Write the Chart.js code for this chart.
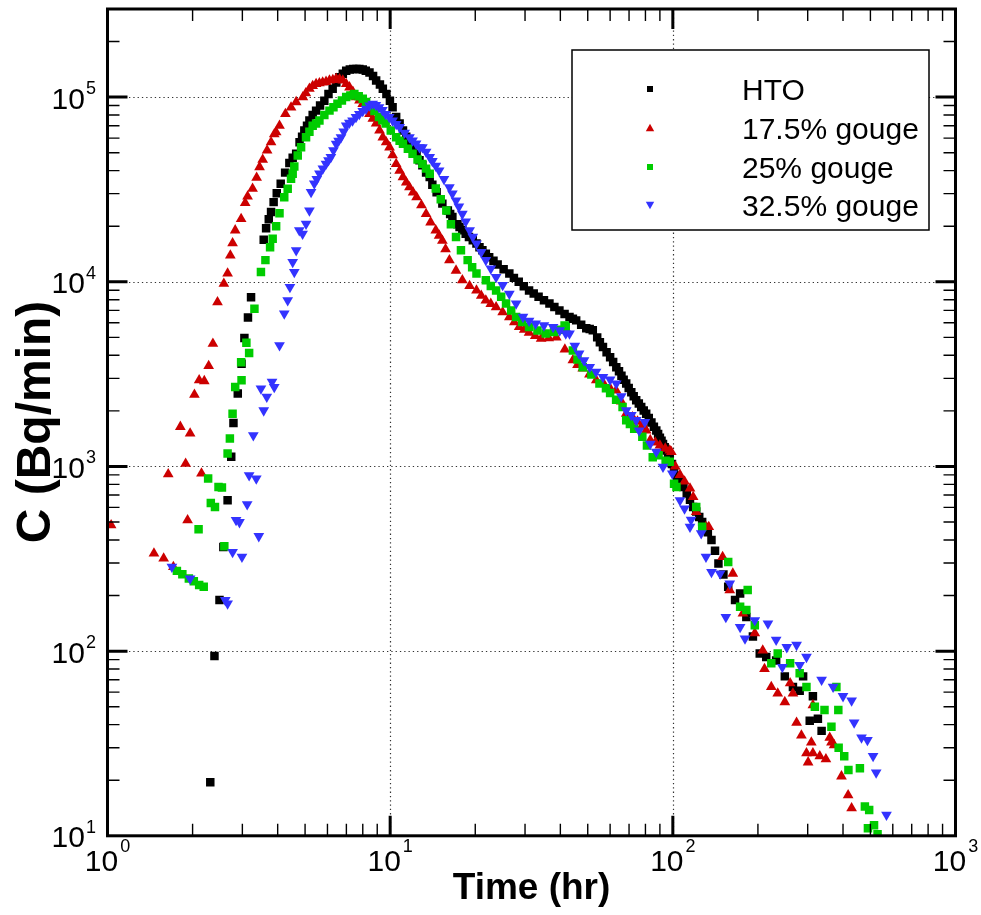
<!DOCTYPE html>
<html>
<head>
<meta charset="utf-8">
<script src="https://cdn.jsdelivr.net/npm/chart.js@4.4.1/dist/chart.umd.min.js"></script>
<style>
  body { margin: 0; background: #fff; }
  #wrap { width: 981px; height: 915px; }
</style>
</head>
<body>
<div id="wrap"><canvas id="breakthrough"></canvas></div>
<script>
// series labels
const seriesNames = ['HTO', '17.5% gouge', '25% gouge', '32.5% gouge'];

// HTO (hr, Bq/min) - scatter, so order of points does not matter
const htoTime = [2.31,2.39,2.49,2.57,2.66,2.74,2.79,2.89,2.98,3.05,3.14,3.22,3.57,3.64,3.72,3.79,3.87,3.97,4.1,4.25,4.4,4.52,4.65,4.78,4.88,4.97,5.08,5.18,5.32,5.47,5.65,5.85,6.05,6.26,6.45,6.61,6.8,6.99,7.2,7.4,7.6,7.78,8.0,8.2,8.45,8.7,8.92,9.2,9.42,9.7,9.98,10.2,10.5,10.8,11.1,11.4,11.7,12.0,12.4,12.7,13.0,13.4,13.8,14.1,14.6,15.3,16.0,16.6,17.3,18.0,19.0,20.2,21.2,22.4,24.0,25.2,26.4,28.5,31.0,33.5,36.6,39.7,43.1,45.5,49.4,52.1,54.0,56.6,60,63.1,65.8,68.4,71.3,74.2,77.3,80.5,84,87.4,90,92.3,95,97.5,101,106,112,118,124,130,137,145,157,166,173,182,192,203,214,232,249,266,281,289,305,313,326,336,
  16.3,17.6,18.5,19.6,20.7,21.8,23.2,27.4,29.7,32.2,35,38.1,41.4,44.3,47.4,50.8,55.2,58.3,61.5,64.5,67,69.8,72.7,75.8,78.9,82.2,85.7,88.7,91.2,93.6,96.2,99.3,103.5,109,115,121,127,133,141,151];
const htoConc = [19.5,94,189,366,656,1130,1720,2480,3600,4960,6400,8240,16900,19500,21800,23900,27000,30200,34000,39000,44000,47000,49300,57000,61000,65900,70000,74600,80000,84500,90000,95700,104000,111000,120000,128000,134000,139000,141000,142000,142000,142000,141000,139000,136000,130000,123000,117000,111000,104000,95700,88000,78000,72000,65900,61000,57000,53000,49300,45500,42700,39000,36900,33500,30500,26500,24300,22400,20500,19000,17500,16100,14800,13600,12400,11700,11100,10000,8980,8300,7620,7000,6450,6180,5600,5460,5000,4440,3900,3450,3100,2810,2520,2280,2100,1930,1730,1565,1430,1325,1220,1120,950,840,713,604,533,470,400,298,223,189,205,153,120,97,93,89,73,64,61,73,42,57,43,37,
  23300,19800,18200,16800,15400,14200,13000,10500,9450,8650,7950,7300,6700,6300,5850,5550,4700,4150,3680,3280,2950,2660,2400,2190,2010,1830,1640,1500,1380,1270,1170,1030,890,775,660,570,500,440,350,260];

// 17.5% gouge
const g175Time = [1.03,1.46,1.58,1.64,1.71,1.81,1.89,1.92,1.96,2.03,2.11,2.15,2.20,2.28,2.36,2.45,2.58,2.66,2.72,2.77,2.83,2.97,3.07,3.13,3.26,3.37,3.45,3.54,3.67,3.79,3.89,3.95,4.06,4.26,4.46,4.65,4.91,5.18,5.47,5.77,6.1,6.44,6.8,7.18,7.58,8.0,8.45,8.92,9.42,9.95,10.5,11.1,11.7,12.4,13.4,14.5,15.3,16.2,18.0,20.2,21.8,23.7,26.4,28.6,31,34.2,38.7,44.3,48,53.6,63,68.4,75,80.5,83.2,90,97.5,98.8,106,115,118,121,131,134,150,159,163,177,195,208,211,223,235,249,260,266,274,285,297,301,309,313,313,331,348,359,364,372,395,417,429,
  5.03,5.32,5.62,5.93,6.27,6.62,6.99,7.38,7.79,8.22,8.68,9.17,9.68,10.2,10.8,11.4,12.05,12.9,13.9,14.9,15.7,17.1,19.1,21,22.7,25,27.5,29.8,32.6,36.4,41.5,46,50.7,57,60,65.7,72,77.6,86.7,94,102,110];
const g175Conc = [481,338,318,908,286,1640,1035,512,1510,2450,2930,916,2900,3500,4620,7760,9770,11100,13900,16200,19000,21900,26700,29000,31900,36600,41800,45800,51500,57000,63000,64600,70000,81000,88000,94000,100000,111000,118000,120000,123000,126000,123000,113000,100000,92000,81000,72000,60600,53500,43500,36900,32500,28700,23300,19000,16700,13100,10200,8980,7930,7290,6440,5690,5300,4920,5000,3760,3400,2930,2580,1930,1750,1570,1390,1300,1220,1200,900,760,684,567,471,471,324,214,263,160,125,101,80,64,59,53,67,59,41,35,28,25,32,51,28,27,26,34,32,31,21,16.6,14.1,
  105000,115000,119000,121000,124000,125000,118000,107000,96000,86000,76500,66000,57000,48500,40000,34500,30500,26000,21000,17800,15000,11500,9500,8400,7600,6850,6050,5500,5100,4950,4300,3550,3150,2800,2650,2250,1850,1650,1350,1250,1000,830];

// 25% gouge
const g25Time = [1.76,1.84,1.94,2.02,2.10,2.11,2.19,2.27,2.32,2.40,2.47,2.54,2.59,2.66,2.71,2.77,2.83,2.97,2.98,3.10,3.17,3.31,3.49,3.62,3.76,3.84,3.95,4.06,4.22,4.34,4.46,4.52,4.58,4.71,4.84,5.04,5.32,5.62,5.85,6.1,6.51,6.99,7.47,8.0,8.45,9.13,9.64,10.5,11.1,12.0,13.0,13.8,14.5,15.1,15.8,17.1,17.8,18.8,20.2,21.8,23.7,25.7,27.9,31,35.5,41.4,41.8,44.3,48,55,60,66.4,68.4,73,78,84.9,94.3,97.5,101,103,121,127,157,173,182,184,195,223,235,260,281,297,318,344,364,379,385,386,404,418,459,478,490,495,515,530,
  5.18,5.47,6.3,6.75,7.23,7.74,8.22,8.8,9.38,10.05,10.8,11.55,12.5,13.4,16.4,19.5,22.7,24.7,26.8,29.3,33.2,38,39.8,46,51.5,58,63,70.5,81,89];
const g25Conc = [272,261,247,239,457,228,223,860,634,604,774,770,370,1175,1415,1930,2690,3670,2930,4680,4110,7150,11300,13100,15400,17100,20000,23500,28700,31900,36100,38500,42100,48300,53500,60600,70000,74700,80000,84500,92000,100000,104000,98000,90000,78000,72000,60600,55900,49300,43500,38500,32000,28000,24300,17500,14800,13100,11100,10200,8980,7620,6450,5690,5240,5800,5690,4250,3450,2810,2500,2100,1780,1600,1450,1120,1075,1060,807,774,604,471,304,174,167,214,138,86,97,86,76,64,50,48,39,64,48,30,27,22.7,23.2,14.4,11,13.8,11.4,10.2,
  65000,72000,88000,96000,102000,101000,94000,84000,75000,66000,58000,52500,46000,41000,20500,12000,9500,8300,7000,6050,5450,5350,5500,3800,3150,2650,2300,1700,1300,1150];

// 32.5% gouge
const g325Time = [1.69,1.96,2.61,2.66,2.77,2.85,2.93,2.99,3.12,3.17,3.28,3.36,3.43,3.49,3.57,3.66,3.82,3.89,4.06,4.22,4.34,4.42,4.52,4.58,4.65,4.77,4.9,5.04,5.18,5.25,5.39,5.62,5.93,6.17,6.44,6.7,6.99,7.36,7.78,8.22,8.67,9.13,9.64,10.2,10.8,11.7,12.0,12.7,13.0,13.8,14.1,14.9,16.2,17.1,18.0,19.1,20.2,21.8,23.7,26.4,27.9,29.5,32.7,37.7,41.8,43.1,46.6,50.8,56.6,63.1,68.4,74.2,76,79.6,83.2,87.4,92.3,99.6,106,110,115,116,126,131,137,147,154,159,173,180,195,217,232,244,253,274,281,297,336,369,400,429,438,465,488,511,524,570,
  5.5,5.78,6.05,6.3,6.57,6.85,7.17,7.57,8.0,8.45,8.9,9.38,9.92,10.5,11.25,12.35,13.4,14.5,15.5,16.6,17.5,18.5,19.6,21,22.7,25,31,35,39.8,45,48.5,53.5,60,65.7,71.3];
const g325Conc = [286,247,189,181,344,512,499,324,624,896,1475,860,419,2640,2010,2380,2870,2690,4530,6720,7930,9350,12800,11300,14800,19000,18200,20600,24300,30600,34000,38500,43500,47300,55900,60600,70000,74700,81000,86500,92000,88000,81000,74700,68700,60600,58200,53500,53500,47300,45000,40000,32500,27500,23300,19000,16100,13100,10600,8610,7620,6450,5930,5690,5240,5240,4080,3450,3050,2810,2010,1780,1565,1740,1325,1200,995,915,656,592,471,514,434,324,268,263,153,232,135,117,147,141,115,82,105,108,84,93,70,64,57,54,41,34,33,27,22,13,
  36000,41000,45500,51500,58000,65000,72500,78000,84000,90000,90500,85000,78000,71500,64000,56000,50500,42500,36000,30000,25500,21200,17500,14500,11800,9600,6150,5800,5450,4500,3750,3250,2950,2400,1900];

// axis decades
const xDecades = [0, 1, 2, 3];
const yDecades = [1, 2, 3, 4, 5];

const pairs = (t, c) => t.map((v, i) => ({ x: v, y: c[i] }));

const colours = ['#000000', '#cc0000', '#00cc00', '#3333ff'];
const FONT = '"Liberation Sans", Arial, Helvetica, sans-serif';

function marker(ctx, kind, x, y, s) {
  ctx.beginPath();
  if (kind === 'sq') {
    ctx.rect(x - s / 2, y - s / 2, s, s);
  } else if (kind === 'up') {
    ctx.moveTo(x, y - s * 0.6);
    ctx.lineTo(x + s * 0.6, y + s * 0.45);
    ctx.lineTo(x - s * 0.6, y + s * 0.45);
    ctx.closePath();
  } else {
    ctx.moveTo(x, y + s * 0.6);
    ctx.lineTo(x + s * 0.6, y - s * 0.45);
    ctx.lineTo(x - s * 0.6, y - s * 0.45);
    ctx.closePath();
  }
  ctx.fill();
}

const tecplotFrame = {
  id: 'tecplotFrame',
  beforeDatasetsDraw(chart) {
    const { ctx, chartArea: a, scales: { x, y } } = chart;
    ctx.save();
    ctx.strokeStyle = '#333';
    ctx.lineWidth = 1.2;
    ctx.setLineDash([1.3, 3]);
    xDecades.slice(1, -1).forEach(k => {
      const px = Math.round(x.getPixelForValue(10 ** k)) + 0.5;
      ctx.beginPath(); ctx.moveTo(px, a.top); ctx.lineTo(px, a.bottom); ctx.stroke();
    });
    yDecades.slice(1).forEach(k => {
      const py = Math.round(y.getPixelForValue(10 ** k)) + 0.5;
      ctx.beginPath(); ctx.moveTo(a.left, py); ctx.lineTo(a.right, py); ctx.stroke();
    });
    ctx.restore();
  },
  afterDatasetsDraw(chart) {
    const { ctx, chartArea: a, scales: { x, y } } = chart;
    ctx.save();
    ctx.strokeStyle = '#000';

    // minor / major ticks, all four sides, pointing inwards
    for (let k = 0; k < 3; k++) {
      for (let m = 1; m <= 9; m++) {
        const v = m * 10 ** k;
        if (v <= x.min || v >= x.max) continue;
        const px = x.getPixelForValue(v);
        const major = m === 1;
        ctx.lineWidth = major ? 3 : 1.4;
        const len = major ? 20 : 12;
        ctx.beginPath();
        ctx.moveTo(px, a.bottom); ctx.lineTo(px, a.bottom - len);
        ctx.moveTo(px, a.top); ctx.lineTo(px, a.top + len);
        ctx.stroke();
      }
    }
    for (let k = 1; k <= 5; k++) {
      for (let m = 1; m <= 9; m++) {
        const v = m * 10 ** k;
        if (v <= y.min || v >= y.max) continue;
        const py = y.getPixelForValue(v);
        const major = m === 1;
        ctx.lineWidth = major ? 3 : 1.4;
        const len = major ? 20 : 12;
        ctx.beginPath();
        ctx.moveTo(a.left, py); ctx.lineTo(a.left + len, py);
        ctx.moveTo(a.right, py); ctx.lineTo(a.right - len, py);
        ctx.stroke();
      }
    }

    // frame
    ctx.lineWidth = 3;
    ctx.strokeRect(a.left, a.top, a.right - a.left, a.bottom - a.top);

    // tick labels 10^k
    ctx.fillStyle = '#000';
    ctx.textBaseline = 'alphabetic';
    xDecades.forEach(k => {
      const px = x.getPixelForValue(10 ** k);
      ctx.font = '30px ' + FONT;
      const w1 = ctx.measureText('10').width;
      ctx.font = '18px ' + FONT;
      const w2 = ctx.measureText(String(k)).width;
      const start = px - (w1 + 2 + w2) / 2;
      ctx.textAlign = 'left';
      ctx.font = '30px ' + FONT;
      ctx.fillText('10', start, a.bottom + 35);
      ctx.font = '18px ' + FONT;
      ctx.fillText(String(k), start + w1 + 2, a.bottom + 16);
    });
    yDecades.forEach(k => {
      const py = y.getPixelForValue(10 ** k);
      ctx.font = '18px ' + FONT;
      const w2 = ctx.measureText(String(k)).width;
      ctx.textAlign = 'right';
      ctx.fillText(String(k), 96, py - 3);
      ctx.font = '30px ' + FONT;
      ctx.fillText('10', 96 - w2 - 1, py + 11.5);
    });

    // axis titles
    ctx.font = 'bold 37px ' + FONT;
    ctx.textAlign = 'center';
    ctx.fillText('Time (hr)', (a.left + a.right) / 2, 899);
    ctx.save();
    ctx.translate(50, 422);
    ctx.rotate(-Math.PI / 2);
    ctx.font = 'bold 48px ' + FONT;
    ctx.fillText('C (Bq/min)', 0, 0);
    ctx.restore();

    // legend box
    ctx.fillStyle = '#fff';
    ctx.fillRect(572, 50, 357, 180);
    ctx.lineWidth = 1.5;
    ctx.strokeRect(572, 50, 357, 180);
    const kinds = ['sq', 'up', 'sq', 'down'];
    const rows = [89, 128, 167, 205];
    seriesNames.forEach((name, i) => {
      ctx.fillStyle = colours[i];
      marker(ctx, kinds[i], 650, rows[i], kinds[i] === 'sq' ? 6 : 7);
      ctx.fillStyle = '#000';
      ctx.font = '30px ' + FONT;
      ctx.textAlign = 'left';
      ctx.fillText(name, 742, rows[i] + 10.7);
    });
    ctx.restore();
  }
};

const ds = (i, t, c, style, rot, r) => ({
  label: seriesNames[i],
  data: pairs(t, c),
  pointStyle: style,
  rotation: rot,
  radius: r,
  pointRadius: r,
  backgroundColor: colours[i],
  borderColor: colours[i],
  borderWidth: 0,
  showLine: false,
  order: 4 - i
});

const ctxMain = document.getElementById('breakthrough').getContext('2d');
const chart = new Chart(ctxMain, {
  type: 'scatter',
  data: {
    datasets: [
      ds(0, htoTime, htoConc, 'rect', 0, 6),
      ds(1, g175Time, g175Conc, 'triangle', 0, 6.2),
      ds(2, g25Time, g25Conc, 'rect', 0, 6),
      ds(3, g325Time, g325Conc, 'triangle', 180, 6.2)
    ]
  },
  options: {
    responsive: true,
    maintainAspectRatio: false,
    animation: false,
    layout: { padding: { left: 107.5, right: 25.5, top: 9, bottom: 79.2 } },
    plugins: { legend: { display: false }, tooltip: { enabled: false } },
    scales: {
      x: { type: 'logarithmic', min: 1, max: 1000, display: false },
      y: { type: 'logarithmic', min: 10, max: 300000, display: false }
    }
  },
  plugins: [tecplotFrame]
});
</script>
</body>
</html>
